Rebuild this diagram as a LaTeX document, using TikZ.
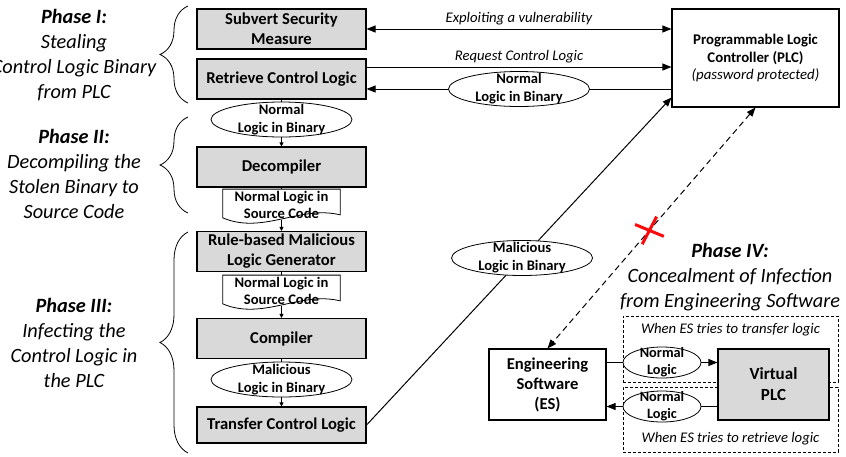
\documentclass[tikz,border=0pt]{standalone}
\usepackage{fontspec}
\setmainfont{Carlito}
\usepackage{tikz}
\usetikzlibrary{arrows.meta, positioning, shapes, decorations.pathreplacing}
\definecolor{boxgray}{RGB}{217,217,217}
\definecolor{xred}{RGB}{250,10,10}

\begin{document}
\begin{tikzpicture}[x=1pt, y=-1pt,
    >={Triangle[length=9pt,width=7pt]},
    stage/.style={draw, fill=boxgray, line width=1.1pt, minimum width=169pt,
      minimum height=40pt, inner sep=0pt, align=center,
      font=\bfseries\fontsize{16.6}{20}\selectfont},
    blob/.style={draw, fill=white, ellipse, line width=0.8pt, minimum width=141pt,
      minimum height=35pt, inner sep=0pt},
    blobtext/.style={align=center, inner sep=0pt, font=\bfseries\fontsize{14.6}{18}\selectfont},
    smallblob/.style={blob, minimum width=78pt, minimum height=31pt},
    smalltext/.style={align=center, inner sep=0pt, font=\bfseries\fontsize{14.3}{17}\selectfont},
    srcdoc/.style={align=center, inner xsep=0pt, inner ysep=1.5pt, minimum width=117pt,
      font=\bfseries\fontsize{14.6}{17}\selectfont},
    phase/.style={align=center, font=\itshape\fontsize{20.3}{25}\selectfont},
    note/.style={font=\itshape\fontsize{14.7}{15}\selectfont},
    frame/.style={draw, dash pattern=on 3pt off 2pt, line width=0.8pt, minimum width=215pt,
      inner sep=0pt},
    chain/.style={line width=0.8pt, -{Triangle[length=4pt,width=4pt]}},
    xmark/.style={cross out, draw=xred, solid, line width=3pt, minimum width=20pt,
      minimum height=18pt, inner sep=0pt, rotate=20}]

  \useasboundingbox (0,0) rectangle (846,456);

  \node[phase] (ph1) at (74,55.5) {\textbf{Phase I:}\\Stealing\\Control Logic Binary\\from PLC};
  \node[phase] (ph2) at (74,174) {\textbf{Phase II:}\\Decompiling the\\Stolen Binary to\\Source Code};
  \node[phase] (ph3) at (74,343) {\textbf{Phase III:}\\Infecting the\\Control Logic in\\the PLC};
  \draw[line width=0.8pt, decorate, decoration={brace, amplitude=28pt}] (188,103) -- (188,6);
  \draw[line width=0.8pt, decorate, decoration={brace, amplitude=28pt}] (188,213) -- (188,117);
  \draw[line width=0.8pt, decorate, decoration={brace, amplitude=28pt}] (188,453) -- (188,232);

  \node[stage] (subvert) at (281.5,29) {Subvert Security\\Measure};
  \node[stage] (retrieve) at (281.5,79) {Retrieve Control Logic};
  \node[blob, label={[blobtext]center:{Normal\\Logic in Binary}}] (binA) at (281.5,119.5) {};
  \node[stage] (decomp) at (281.5,167) {Decompiler};
  \node[srcdoc] (srcA) at (281.5,204.5) {Normal Logic in\\Source Code};
  \node[stage] (rulegen) at (281.5,251.5) {Rule-based Malicious\\Logic Generator};
  \node[srcdoc] (srcB) at (281.5,290.5) {Normal Logic in\\Source Code};
  \node[stage] (compiler) at (281.5,338.5) {Compiler};
  \node[blob, label={[blobtext]center:{Malicious\\Logic in Binary}}] (binB) at (281.5,379.5) {};
  \node[stage, minimum height=36pt] (transfer) at (281.5,425) {Transfer Control Logic};

  \draw[line width=0.8pt] ([yshift=2pt]srcA.south west) -- (srcA.north west) -- (srcA.north east)
    -- ([yshift=5pt]srcA.south east) .. controls ([xshift=-40pt,yshift=15pt]srcA.south east)
    and ([xshift=40pt,yshift=-15pt]srcA.south west) .. ([yshift=2pt]srcA.south west) -- cycle;
  \draw[line width=0.8pt] ([yshift=2pt]srcB.south west) -- (srcB.north west) -- (srcB.north east)
    -- ([yshift=5pt]srcB.south east) .. controls ([xshift=-40pt,yshift=15pt]srcB.south east)
    and ([xshift=40pt,yshift=-15pt]srcB.south west) .. ([yshift=2pt]srcB.south west) -- cycle;

  \draw[line width=0.8pt] (retrieve) -- (binA);
  \draw[chain] (binA) -- (decomp);
  \draw[line width=0.8pt] (decomp) -- (srcA);
  \draw[chain] (srcA) -- (rulegen);
  \draw[line width=0.8pt] (rulegen) -- (srcB);
  \draw[chain] (srcB) -- (compiler);
  \draw[line width=0.8pt] (compiler) -- (binB);
  \draw[chain] (binB) -- (transfer);

  \node[draw, line width=1.1pt, minimum width=167pt, minimum height=98pt, align=center,
    font=\fontsize{14.8}{17.5}\selectfont] (plc) at (755.5,58)
    {\textbf{Programmable Logic}\\\textbf{Controller (PLC)}\\\textit{(password protected)}};

  \coordinate (reqA) at ([yshift=12pt]retrieve.east);
  \coordinate (retA) at ([yshift=-10pt]retrieve.east);
  \draw[<->, line width=1pt] (subvert.east) -- (subvert.east -| plc.west)
    node[note, midway, above] (explbl) {Exploiting a vulnerability};
  \draw[->, line width=1pt] (reqA) -- (reqA -| plc.west)
    node[note, midway, above] (reqlbl) {Request Control Logic};
  \draw[->, line width=1pt] (retA -| plc.west) -- (retA)
    node[blob, midway, label={[blobtext]center:{Normal\\Logic in Binary}}] (binC) {};
  \draw[->, line width=1pt] (transfer.east) -- ([yshift=10pt]plc.south west)
    node[blob, pos=0.51, label={[blobtext]center:{Malicious\\Logic in Binary}}] (binD) {};

  \node[phase] (ph4) at (730,277)
    {\textbf{Phase IV:}\\Concealment of Infection\\from Engineering Software};

  \node[frame, minimum height=66pt] (upframe) at (730.5,349) {};
  \node[frame, minimum height=65pt] (lowframe) at (730.5,419.5) {};
  \node[note, below=4pt of upframe.north] (uplbl) {When ES tries to transfer logic};
  \node[note, above=4pt of lowframe.south] (lowlbl) {When ES tries to retrieve logic};

  \node[draw, fill=white, line width=1.1pt, minimum width=117pt, minimum height=71pt, align=center,
    font=\bfseries\fontsize{16.6}{20}\selectfont] (es) at (547.5,384.5) {Engineering\\Software\\(ES)};
  \node[draw, fill=boxgray, line width=1.1pt, minimum width=111pt, minimum height=71pt, align=center,
    font=\bfseries\fontsize{17}{21}\selectfont] (vplc) at (773.5,384.5) {Virtual\\PLC};

  \coordinate (sendA) at ([yshift=22pt]es.east);
  \coordinate (getA) at ([yshift=-22pt]es.east);
  \draw[->, line width=1pt] (sendA) -- (sendA -| vplc.west)
    node[smallblob, midway, label={[smalltext]center:{Normal\\Logic}}] (normA) {};
  \draw[->, line width=1pt] (getA -| vplc.west) -- (getA)
    node[smallblob, midway, label={[smalltext]center:{Normal\\Logic}}] (normB) {};

  \draw[<->, dash pattern=on 6pt off 4pt, line width=1pt] (plc.south) -- (es.north);
  \path (plc.south) -- (es.north) node[xmark, pos=0.51] (block) {};
\end{tikzpicture}
\end{document}
